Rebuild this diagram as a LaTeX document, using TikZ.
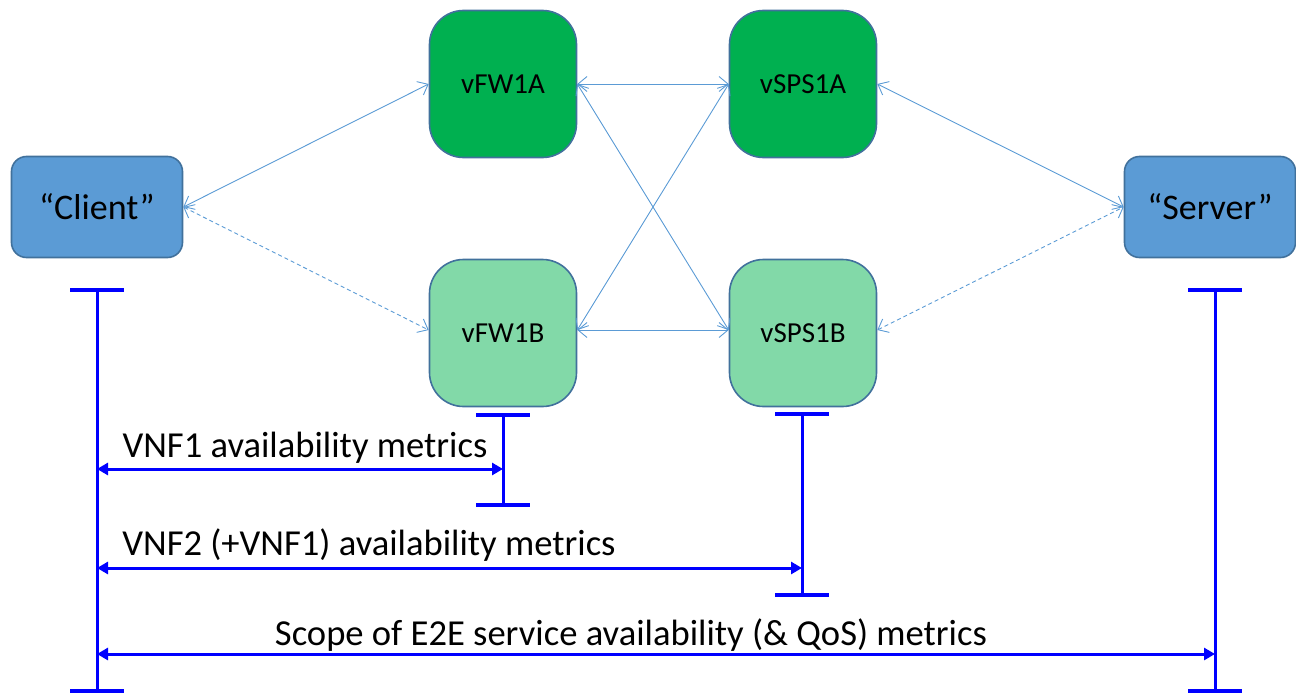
\documentclass[tikz,border=0pt]{standalone}
\usepackage{fontspec}
\setmainfont{Carlito}
\usetikzlibrary{arrows.meta}

\definecolor{hostfill}{HTML}{5B9BD5}
\definecolor{hostline}{HTML}{41719C}
\definecolor{vnfA}{HTML}{00B050}
\definecolor{vnfB}{HTML}{82D9A8}
\definecolor{vnfline}{HTML}{41719C}
\definecolor{linkc}{HTML}{5B9BD5}
\definecolor{scopec}{RGB}{0,0,255}

\tikzset{
  host/.style={draw=hostline, line width=1.6pt, fill=hostfill, rounded corners=15pt,
    minimum width=171pt, minimum height=101pt, inner sep=0pt,
    font=\fontsize{36}{40}\selectfont},
  vnf/.style={draw=vnfline, line width=1.6pt, rounded corners=34pt,
    minimum width=147pt, minimum height=147pt, inner sep=0pt,
    font=\fontsize{29}{34}\selectfont},
  vnfa/.style={vnf, fill=vnfA},
  vnfb/.style={vnf, fill=vnfB},
  link/.style={draw=linkc, line width=0.9pt,
    {Straight Barb[length=9pt,width=15pt]}-{Straight Barb[length=9pt,width=15pt]}},
  dlink/.style={link, dash pattern=on 4pt off 3pt},
  bar/.style={draw=scopec, line width=3pt},
  barcap/.style={draw=scopec, line width=4pt},
  span/.style={draw=scopec, line width=3pt,
    {Triangle[length=11pt,width=12pt]}-{Triangle[length=11pt,width=12pt]}},
  spanlabel/.style={anchor=base, inner sep=0pt, font=\fontsize{36.6}{40}\selectfont},
}

\begin{document}
\begin{tikzpicture}[x=1pt, y=-1pt]
  \useasboundingbox (0,0) rectangle (1296,693);

  % end hosts
  \node[host] (client) at (97,207) {“Client”};
  \node[host] (server) at (1210,207) {“Server”};

  % firewall and SPS instances
  \node[vnfa] (fw1a)  at (503,84)  {vFW1A};
  \node[vnfa] (sps1a) at (803,84)  {vSPS1A};
  \node[vnfb] (fw1b)  at (503,333) {vFW1B};
  \node[vnfb] (sps1b) at (803,333) {vSPS1B};

  % traffic links
  \draw[link]  (client.east) -- (fw1a.west);
  \draw[dlink] (client.east) -- ([yshift=3pt]fw1b.west);
  \draw[link]  (fw1a.east) -- (sps1a.west);
  \draw[link]  (fw1a.east) -- ([yshift=3pt]sps1b.west);
  \draw[link]  (sps1a.west) -- ([yshift=3pt]fw1b.east);
  \draw[link]  ([yshift=3pt]fw1b.east) -- ([yshift=3pt]sps1b.west);
  \draw[link]  (sps1a.east) -- (server.west);
  \draw[dlink] ([yshift=3pt]sps1b.east) -- (server.west);

  % measurement points
  \coordinate (cTop) at (97,290);   \coordinate (cBot) at (97,691);
  \coordinate (fTop) at (503,415);  \coordinate (fBot) at (503,505);
  \coordinate (sTop) at (802,414);  \coordinate (sBot) at (802,595);
  \coordinate (vTop) at (1215,290); \coordinate (vBot) at (1215,691);

  \foreach \p in {c,f,s,v}{
    \draw[bar] (\p Top) -- (\p Bot);
    \draw[barcap] ([xshift=-27pt]\p Top) -- ([xshift=27pt]\p Top);
    \draw[barcap] ([xshift=-27pt]\p Bot) -- ([xshift=27pt]\p Bot);
  }

  % scope arrows
  \coordinate (c1) at (cTop |- 0,469);  \coordinate (f1) at (fTop |- 0,469);
  \coordinate (c2) at (cTop |- 0,568);  \coordinate (s2) at (sTop |- 0,568);
  \coordinate (c3) at (cTop |- 0,654);  \coordinate (v3) at (vTop |- 0,654);

  \draw[span] (c1) -- (f1);
  \draw[span] (c2) -- (s2);
  \draw[span] (c3) -- (v3);

  \node[spanlabel] (l1) at (305,457) {VNF1 availability metrics};
  \node[spanlabel] (l2) at (369,555) {VNF2 (+VNF1) availability metrics};
  \node[spanlabel] (l3) at (631,645) {Scope of E2E service availability (\& QoS) metrics};
\end{tikzpicture}
\end{document}
